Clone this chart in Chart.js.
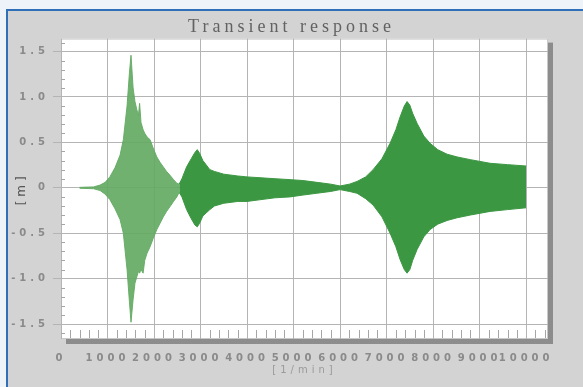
<!DOCTYPE html>
<html>
<head>
<meta charset="utf-8">
<script src="https://cdn.jsdelivr.net/npm/chart.js@4"></script>
<style>
  html, body { margin: 0; padding: 0; width: 583px; height: 387px; overflow: hidden; background: #edf3f8; }
  #panel { position: absolute; left: 6px; top: 9px; width: 600px; height: 400px; background: #d3d3d3;
           border-left: 2px solid #2f6fb8; border-top: 2px solid #2f6fb8; }
  #c { position: absolute; left: 0; top: 0; }
</style>
</head>
<body>
<div id="panel"></div>
<canvas id="c" width="583" height="387"></canvas>
<script>
// Run-up through the first resonance: envelope of the oscillation [m] versus speed [1/min]
const speedRunUp = [400, 700, 840, 950, 1050, 1160, 1270, 1340, 1420, 1470, 1505, 1550, 1590, 1630, 1665, 1690, 1720, 1765, 1800, 1850, 1915, 1980, 2060, 2130, 2200, 2270, 2340, 2420, 2490, 2540];
const upperRunUp = [0.005, 0.01, 0.03, 0.06, 0.12, 0.22, 0.36, 0.53, 0.9, 1.26, 1.46, 1.1, 0.95, 0.86, 0.8, 0.93, 0.72, 0.64, 0.6, 0.56, 0.53, 0.44, 0.34, 0.28, 0.23, 0.18, 0.14, 0.09, 0.05, 0.04];
const lowerRunUp = [-0.005, -0.01, -0.03, -0.07, -0.13, -0.23, -0.35, -0.5, -0.9, -1.25, -1.48, -1.23, -1.05, -0.98, -0.92, -0.94, -0.9, -0.94, -0.8, -0.72, -0.65, -0.56, -0.46, -0.39, -0.32, -0.26, -0.21, -0.15, -0.1, -0.05];

// Remaining run: second bump near 3000, quiet zone near 6000, resonance near 7500
const speedMain = [2540, 2600, 2700, 2800, 2880, 2930, 2980, 3050, 3200, 3300, 3500, 3800, 4000, 4300, 4600, 4925, 5200, 5500, 5800, 6000, 6200, 6365, 6550, 6710, 6900, 7075, 7200, 7290, 7380, 7440, 7500, 7560, 7655, 7800, 7935, 8100, 8300, 8515, 8800, 9225, 9600, 10000];
const upperMain = [0.04, 0.1, 0.23, 0.32, 0.39, 0.42, 0.38, 0.3, 0.2, 0.18, 0.15, 0.13, 0.12, 0.11, 0.1, 0.09, 0.08, 0.06, 0.04, 0.02, 0.04, 0.07, 0.12, 0.2, 0.32, 0.49, 0.64, 0.78, 0.9, 0.95, 0.91, 0.82, 0.71, 0.57, 0.49, 0.42, 0.37, 0.34, 0.31, 0.27, 0.255, 0.24];
const lowerMain = [-0.05, -0.1, -0.24, -0.34, -0.41, -0.43, -0.39, -0.31, -0.24, -0.2, -0.17, -0.15, -0.15, -0.13, -0.11, -0.1, -0.08, -0.06, -0.04, -0.02, -0.04, -0.06, -0.12, -0.19, -0.32, -0.5, -0.65, -0.79, -0.9, -0.94, -0.9, -0.8, -0.68, -0.54, -0.46, -0.4, -0.36, -0.33, -0.3, -0.26, -0.24, -0.22];

// Axis ticks and texts
const speedTicks = [0, 1000, 2000, 3000, 4000, 5000, 6000, 7000, 8000, 9000, 10000];
const amplitudeTicks = [-1.5, -1.0, -0.5, 0, 0.5, 1.0, 1.5];
const chartTitle = 'Transient response';
const speedUnit = '[1/min]';
const amplitudeUnit = '[m]';

const pts = (xs, ys) => xs.map((v, i) => ({ x: v, y: ys[i] }));

const SPACING = '4px';

// white plot panel with a drop shadow, plus minor tick marks along the axes
const plotPanel = {
  id: 'plotPanel',
  beforeUpdate(chart) { chart.ctx.letterSpacing = SPACING; },
  beforeDraw(chart) {
    const { ctx, chartArea: a } = chart;
    ctx.save();
    ctx.fillStyle = '#8c8c8c';
    ctx.fillRect(a.left + 5, a.top + 4, a.right - a.left, a.bottom - a.top + 1);
    ctx.fillStyle = '#ffffff';
    ctx.fillRect(a.left, a.top, a.right - a.left, a.bottom - a.top);
    ctx.strokeStyle = '#c8c8c8';
    ctx.lineWidth = 1;
    ctx.strokeRect(a.left + 0.5, a.top + 0.5, a.right - a.left - 1, a.bottom - a.top - 1);
    ctx.restore();
    ctx.letterSpacing = SPACING;
  },
  beforeDatasetsDraw(chart) {
    const { ctx, chartArea: a, scales: { x, y } } = chart;
    ctx.save();
    ctx.strokeStyle = '#a6a6a6';
    ctx.lineWidth = 1;
    ctx.beginPath();
    for (let v = 200; v < x.max; v += 200) {
      if (v % 1000 === 0) continue;
      const px = Math.round(x.getPixelForValue(v)) + 0.5;
      ctx.moveTo(px, a.bottom - 9);
      ctx.lineTo(px, a.bottom - 1);
    }
    for (let k = -16; k <= 16; k++) {
      if (k % 5 === 0) continue;
      const py = Math.round(y.getPixelForValue(k / 10)) + 0.5;
      ctx.moveTo(a.left, py);
      ctx.lineTo(a.left + 4, py);
    }
    ctx.stroke();
    ctx.restore();
  }
};

const LIGHT = 'rgba(100,170,100,0.92)';
const DARK = '#3b9742';

const ctx = document.getElementById('c').getContext('2d');
ctx.letterSpacing = SPACING;

new Chart(ctx, {
  type: 'line',
  data: {
    datasets: [
      { data: pts(speedRunUp, upperRunUp), borderColor: LIGHT, borderWidth: 1, fill: false },
      { data: pts(speedRunUp, lowerRunUp), borderColor: LIGHT, borderWidth: 1, backgroundColor: LIGHT, fill: '-1' },
      { data: pts(speedMain, upperMain), borderColor: DARK, borderWidth: 1, fill: false },
      { data: pts(speedMain, lowerMain), borderColor: DARK, borderWidth: 1, backgroundColor: DARK, fill: '-1' }
    ]
  },
  options: {
    responsive: false,
    animation: false,
    devicePixelRatio: 1,
    layout: { padding: 0 },
    elements: { point: { radius: 0 }, line: { tension: 0 } },
    plugins: {
      legend: { display: false },
      tooltip: { enabled: false },
      title: {
        display: true,
        text: chartTitle,
        color: '#626262',
        font: { family: 'Liberation Serif', size: 18, weight: 'normal' },
        padding: { top: 16, bottom: 1 }
      }
    },
    scales: {
      x: {
        type: 'linear',
        min: 0,
        max: 10470,
        afterBuildTicks(s) { s.ticks = speedTicks.map(v => ({ value: v })); },
        afterFit(s) { s.height = 48; },
        grid: { color: '#b4b4b4', lineWidth: 1, drawTicks: false },
        border: { display: false },
        ticks: {
          autoSkip: false, maxRotation: 0, padding: 13,
          color: '#8a8a8a',
          font: { family: 'DejaVu Sans', size: 10, weight: 'bold' },
          callback: v => String(v)
        },
        title: {
          display: true, text: speedUnit, color: '#9a9a9a',
          font: { family: 'DejaVu Sans', size: 10 },
          padding: { top: 0, bottom: 11 }
        }
      },
      y: {
        type: 'linear',
        min: -1.665,
        max: 1.643,
        afterBuildTicks(s) { s.ticks = amplitudeTicks.map(v => ({ value: v })); },
        afterFit(s) { s.width = 61; },
        grid: { color: '#b4b4b4', lineWidth: 1, drawTicks: true, tickLength: 8 },
        border: { display: false },
        ticks: {
          padding: 4,
          color: '#8a8a8a',
          font: { family: 'DejaVu Sans', size: 10, weight: 'bold' },
          callback: v => (v === 0 ? '0' : v.toFixed(1))
        },
        title: {
          display: true, text: amplitudeUnit, color: '#555555',
          font: { family: 'DejaVu Sans', size: 12 },
          padding: { top: 15, bottom: 0 }
        }
      },
      right: {
        type: 'linear',
        position: 'right',
        display: true,
        afterFit(s) { s.width = 35; },
        grid: { display: false },
        border: { display: false },
        ticks: { display: false }
      }
    }
  },
  plugins: [plotPanel]
});
</script>
</body>
</html>
